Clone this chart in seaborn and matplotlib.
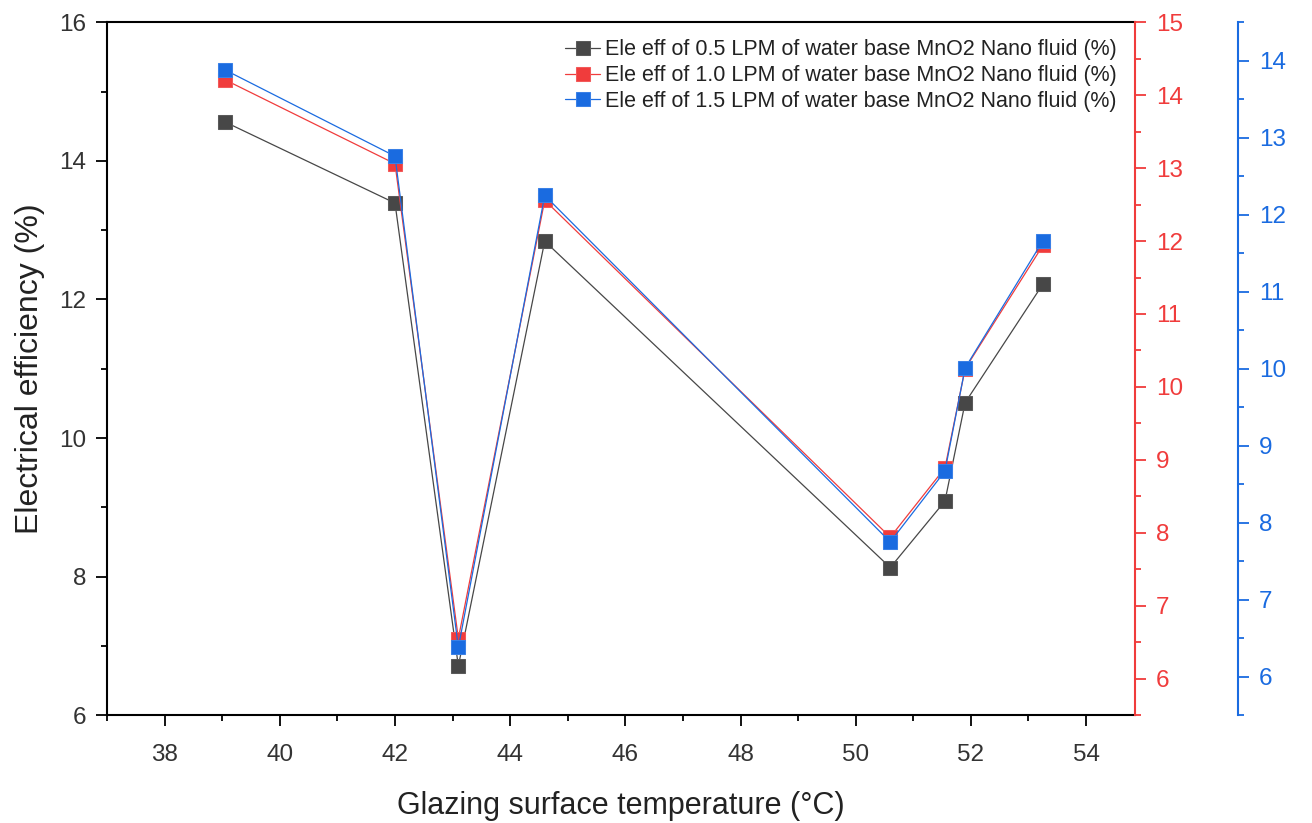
import matplotlib
matplotlib.use("Agg")
import matplotlib.pyplot as plt
import seaborn as sns
import numpy as np
import pandas as pd
from matplotlib.ticker import MultipleLocator

# ---- data ----
temperature = [39.05, 42.0, 43.1, 44.6, 50.6, 51.55, 51.9, 53.25]
eff_05 = [14.56, 13.39, 6.71, 12.84, 8.13, 9.09, 10.51, 12.22]
eff_10 = [14.21, 13.06, 6.55, 12.56, 7.94, 8.89, 10.25, 11.94]
eff_15 = [13.88, 12.76, 6.38, 12.25, 7.75, 8.67, 10.01, 11.66]
labels = ["Ele eff of 0.5 LPM of water base MnO2 Nano fluid (%)",
          "Ele eff of 1.0 LPM of water base MnO2 Nano fluid (%)",
          "Ele eff of 1.5 LPM of water base MnO2 Nano fluid (%)"]
x_ticks = [38, 40, 42, 44, 46, 48, 50, 52, 54]

C_BLACK = "#474747"
C_RED = "#f03c3c"
C_BLUE = "#1a6be0"

sns.set_theme(style="ticks")
plt.rcParams['font.family'] = ['Liberation Sans', 'DejaVu Sans']

fig = plt.figure(figsize=(13.12, 8.23), dpi=100)
ax = fig.add_axes([0.0816, 0.131, 0.7835, 0.842])
ax_r = ax.twinx()
ax_b = ax.twinx()

df = pd.DataFrame({"T": temperature, "e05": eff_05, "e10": eff_10, "e15": eff_15})

common = dict(marker="s", markersize=10.5, linewidth=0.9, sort=False, estimator=None)
sns.lineplot(data=df, x="T", y="e05", ax=ax, color=C_BLACK, markeredgecolor="#5a5a5a",
             label=labels[0], legend=False, **common)
sns.lineplot(data=df, x="T", y="e10", ax=ax_r, color=C_RED, markeredgecolor="#f25a5a",
             label=labels[1], legend=False, **common)
sns.lineplot(data=df, x="T", y="e15", ax=ax_b, color=C_BLUE, markeredgecolor="#3a80e6",
             label=labels[2], legend=False, **common)

TICK_FS = 17.5

# main axis
ax.set_xlim(37.0, 54.85)
ax.set_ylim(6, 16)
ax.set_xticks(x_ticks)
ax.xaxis.set_minor_locator(MultipleLocator(1))
ax.yaxis.set_major_locator(MultipleLocator(2))
ax.yaxis.set_minor_locator(MultipleLocator(1))
ax.set_xlabel("Glazing surface temperature (°C)", fontsize=22, labelpad=18, color="#222222")
ax.set_ylabel("Electrical efficiency (%)", fontsize=23, labelpad=10, color="#222222")
ax.tick_params(axis="both", which="major", direction="out", length=8, width=1.3,
               labelsize=TICK_FS, colors="black", labelcolor="#333333", pad=7)
ax.tick_params(axis="x", which="major", pad=13)
ax.tick_params(axis="both", which="minor", direction="out", length=4.5, width=1.3, colors="black")
for s in ["left", "bottom", "top"]:
    ax.spines[s].set_visible(True)
    ax.spines[s].set_linewidth(1.5)
    ax.spines[s].set_color("black")
ax.spines["right"].set_visible(False)

# red axis
ax_r.set_ylim(5.5, 15)
ax_r.yaxis.set_major_locator(MultipleLocator(1))
ax_r.yaxis.set_minor_locator(MultipleLocator(0.5))
ax_r.set_ylabel("")
ax_r.spines["right"].set_color(C_RED)
ax_r.spines["right"].set_linewidth(1.5)
for s in ["left", "top", "bottom"]:
    ax_r.spines[s].set_visible(False)
ax_r.tick_params(axis="y", which="major", direction="out", length=8, width=1.3,
                 colors=C_RED, labelsize=TICK_FS, pad=7)
ax_r.tick_params(axis="y", which="minor", direction="out", length=4.5, width=1.3, colors=C_RED)

# blue axis
ax_b.set_ylim(5.5, 14.5)
ax_b.spines["right"].set_position(("axes", 1.10))
ax_b.yaxis.set_major_locator(MultipleLocator(1))
ax_b.yaxis.set_minor_locator(MultipleLocator(0.5))
ax_b.set_ylabel("")
ax_b.spines["right"].set_color(C_BLUE)
ax_b.spines["right"].set_linewidth(1.5)
for s in ["left", "top", "bottom"]:
    ax_b.spines[s].set_visible(False)
ax_b.tick_params(axis="y", which="major", direction="out", length=8, width=1.3,
                 colors=C_BLUE, labelsize=TICK_FS, pad=7)
ax_b.tick_params(axis="y", which="minor", direction="out", length=4.5, width=1.3, colors=C_BLUE)

# legend
handles = []
for a in (ax, ax_r, ax_b):
    h, l = a.get_legend_handles_labels()
    handles += h
leg = ax_b.legend(handles, labels, loc="upper right", bbox_to_anchor=(0.997, 0.997),
                  frameon=False, fontsize=15.5, handlelength=1.6, handletextpad=0.25,
                  labelspacing=0.22, markerscale=1.0, borderaxespad=0.3)
for t in leg.get_texts():
    t.set_color("#222222")

fig.savefig("out.png", dpi=100)
